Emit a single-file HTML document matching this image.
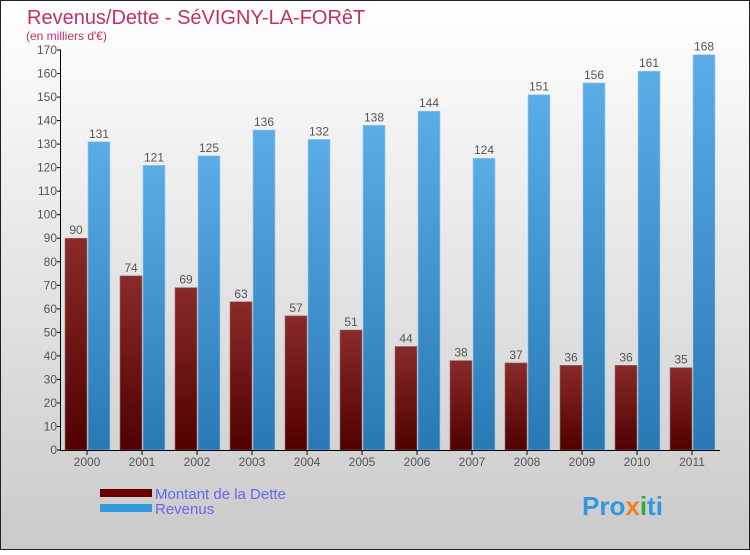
<!DOCTYPE html>
<html><head><meta charset="utf-8"><style>
html,body{margin:0;padding:0}
body{width:750px;height:550px;overflow:hidden;font-family:"Liberation Sans","DejaVu Sans",sans-serif}
</style></head><body>
<svg id="c" width="750" height="550" xmlns="http://www.w3.org/2000/svg" font-family="Liberation Sans, DejaVu Sans, sans-serif">
<defs>
<linearGradient id="bg" x1="0" y1="0" x2="0" y2="1"><stop offset="0" stop-color="#ffffff"/><stop offset="1" stop-color="#cacaca"/></linearGradient>
<linearGradient id="gr" x1="0" y1="0" x2="0" y2="1"><stop offset="0" stop-color="#8a2a2a"/><stop offset="1" stop-color="#500000"/></linearGradient>
<linearGradient id="gb" x1="0" y1="0" x2="0" y2="1"><stop offset="0" stop-color="#5aade6"/><stop offset="1" stop-color="#2878b4"/></linearGradient>
</defs>
<rect x="0.5" y="0.5" width="749" height="549" fill="url(#bg)" stroke="#222"/>
<text x="27" y="24" font-size="20" fill="#c0306a">Revenus/Dette - SéVIGNY-LA-FORêT</text>
<text x="26" y="40" font-size="12" fill="#c0306a">(en milliers d'€)</text>
<g id="plot"></g>
<rect x="100" y="489" width="52" height="8" fill="#6a0000"/>
<rect x="100" y="504" width="52" height="8" fill="#3399dd"/>
<text x="155" y="499" font-size="15" fill="#6666ee">Montant de la Dette</text>
<text x="155" y="514" font-size="15" fill="#6666ee">Revenus</text>
<text x="582" y="515" font-size="26" font-weight="bold" fill="#3399dd">Pro<tspan fill="#f08020">x</tspan><tspan fill="#33aa33">i</tspan>ti</text>
</svg>
<script>
const years=["2000","2001","2002","2003","2004","2005","2006","2007","2008","2009","2010","2011"];
const dette=[90,74,69,63,57,51,44,38,37,36,36,35];
const revenus=[131,121,125,136,132,138,144,124,151,156,161,168];
const ticks=[0,10,20,30,40,50,60,70,80,90,100,110,120,130,140,150,160,170];
const NS="http://www.w3.org/2000/svg";
const g=document.getElementById('plot');
const y=v=>450-v*400/170;
const xc=i=>87+i*55;
function mk(t,a,txt){const e=document.createElementNS(NS,t);for(const k in a)e.setAttribute(k,a[k]);if(txt!==undefined)e.textContent=txt;g.appendChild(e);return e;}
years.forEach((yr,i)=>{
 const c=xc(i);
 let r=mk('rect',{x:c-22,y:y(dette[i]),width:22,height:450-y(dette[i]),fill:'url(#gr)',stroke:'#9a7070','stroke-width':0.6});
 
 
 let b=mk('rect',{x:c+1,y:y(revenus[i]),width:22,height:450-y(revenus[i]),fill:'url(#gb)',stroke:'#a0c8e8','stroke-width':0.6});
 
 
 let t1=mk('text',{x:c-11,y:y(dette[i])-4,'font-size':12,fill:'#555','text-anchor':'middle'},dette[i]);
 
 
 let t2=mk('text',{x:c+12,y:y(revenus[i])-4,'font-size':12,fill:'#555','text-anchor':'middle'},revenus[i]);
 
 
 let tk=mk('line',{x1:c,x2:c,y1:450,y2:455,stroke:'#000'});
 
 
 let xl=mk('text',{x:c,y:466,'font-size':12,fill:'#555','text-anchor':'middle'},yr);
 
 
});
ticks.forEach(v=>{
 let l=mk('line',{x1:57,x2:61,y1:y(v),y2:y(v),stroke:'#000'});
 
 
 let t=mk('text',{x:57,y:y(v)+4,'font-size':12,fill:'#555','text-anchor':'end'},v);
 
 
});
let ya=mk('line',{x1:60.5,x2:60.5,y1:50,y2:450.5,stroke:'#000'});


let xa=mk('line',{x1:60,x2:720,y1:450.5,y2:450.5,stroke:'#000'});


</script>
</body></html>
